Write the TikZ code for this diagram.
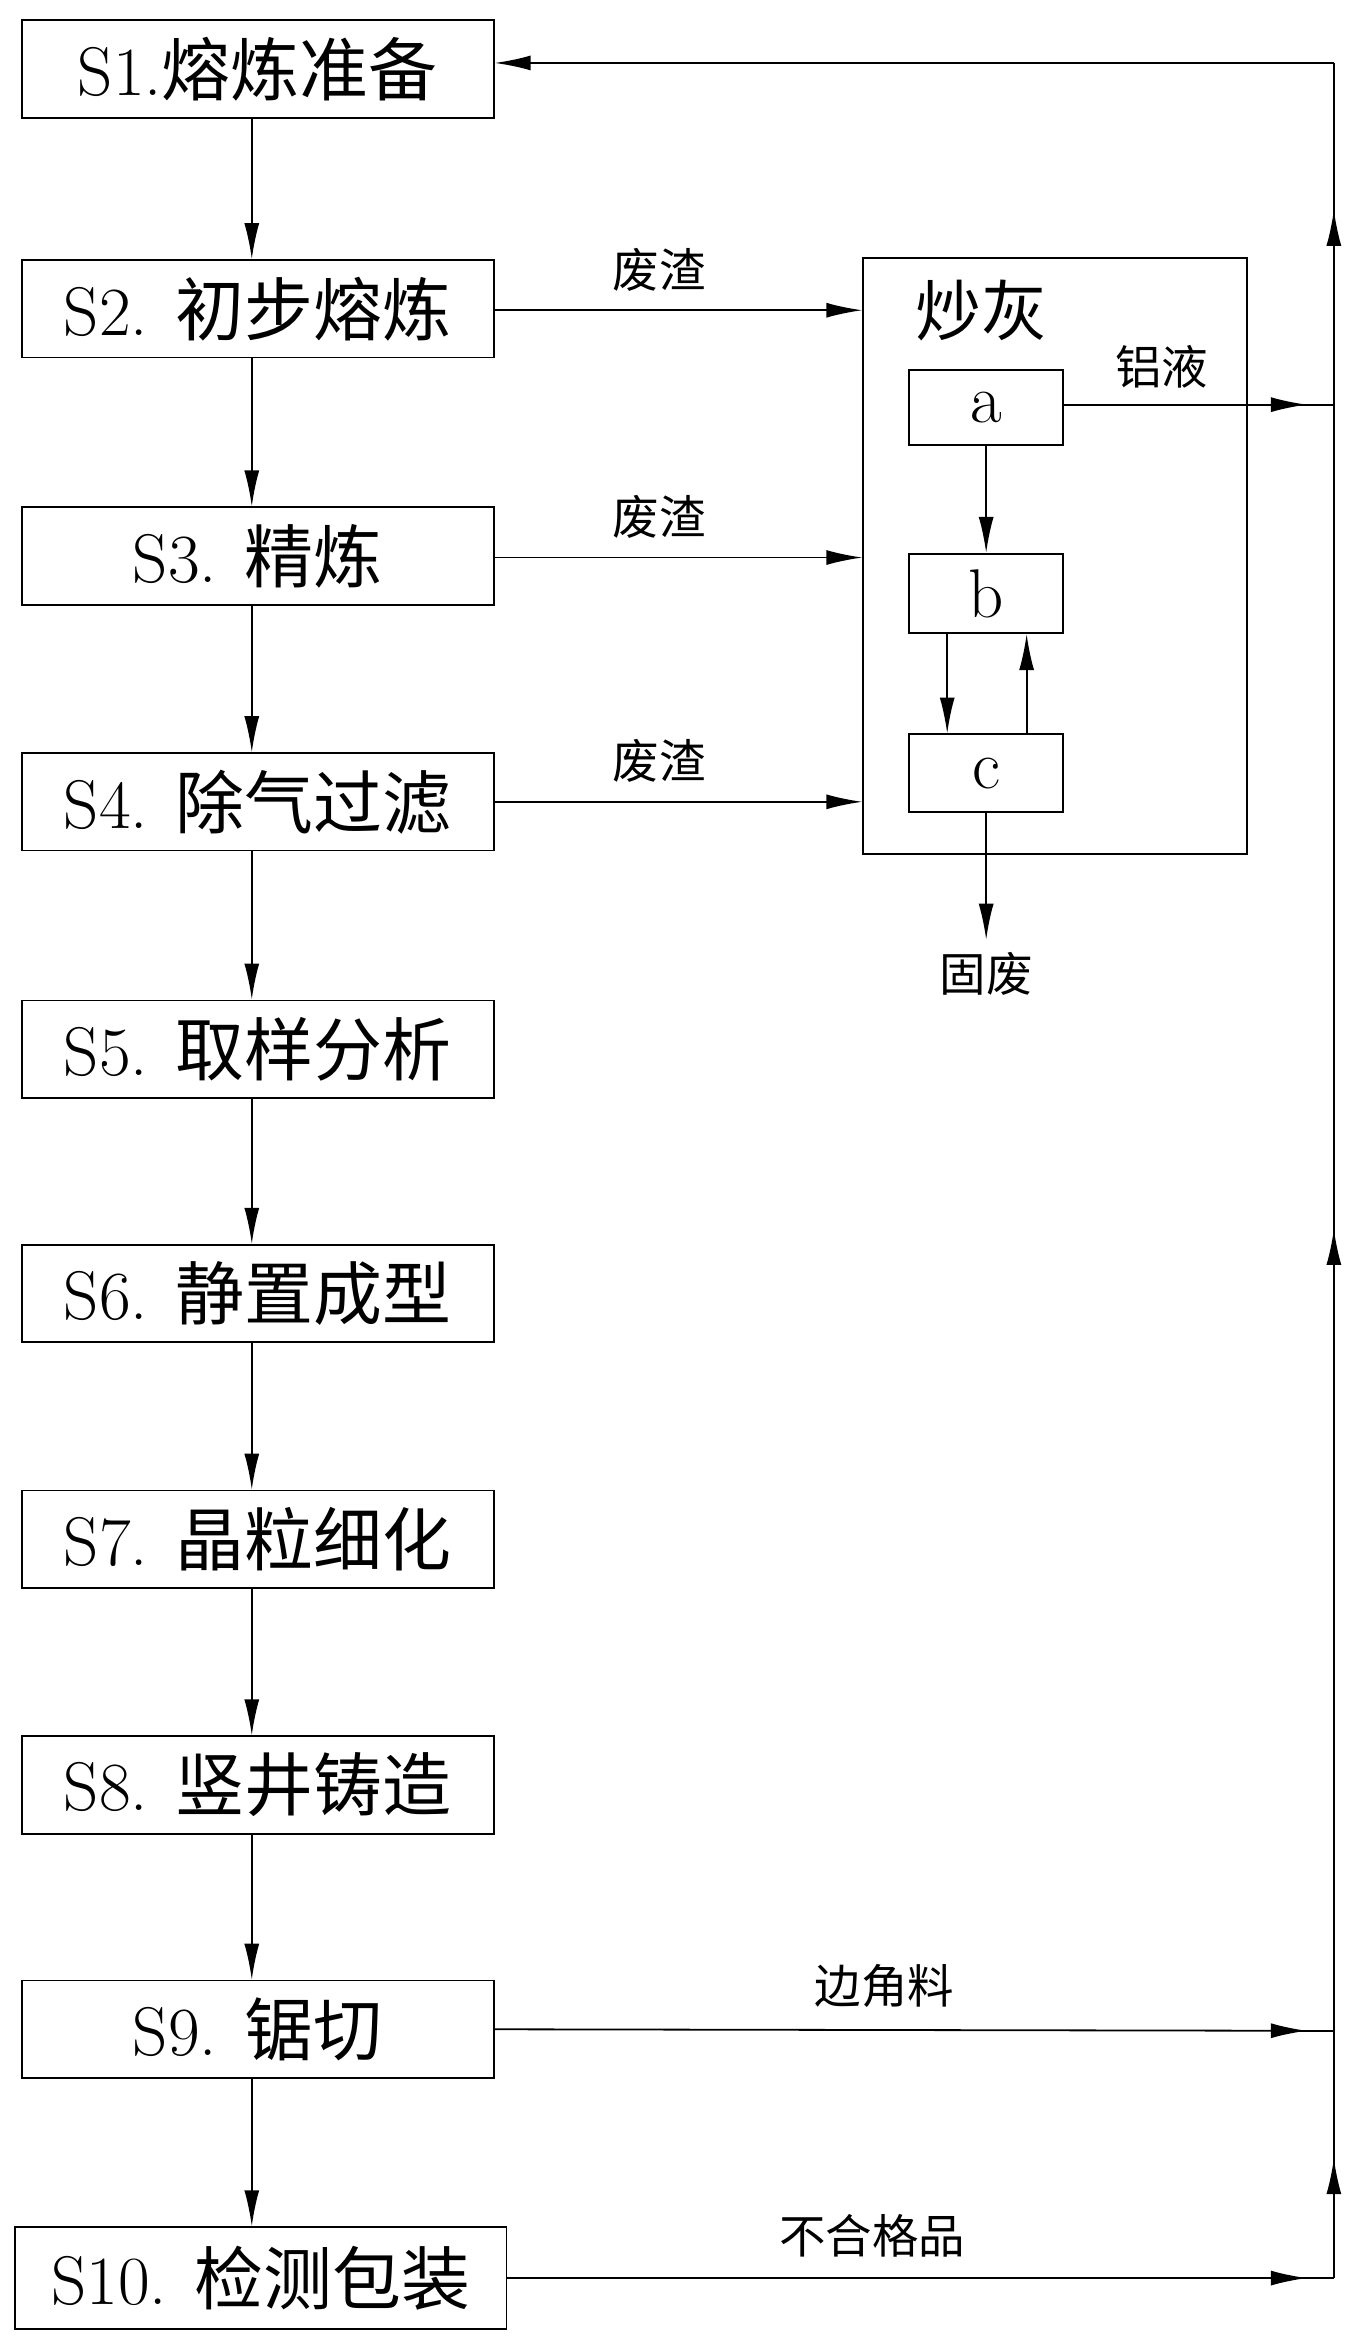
\documentclass[tikz,border=0pt]{standalone}
\usepackage{fontspec}
\newfontfamily\cjk{Noto Sans CJK SC}
\usetikzlibrary{arrows.meta}
\begin{document}
\begin{tikzpicture}[x=1pt,y=-1pt,
  box/.style={draw,line width=1.2pt,inner sep=0pt},
  ln/.style={line width=1.2pt},
  arr/.style={ln,-{Latex[length=24pt,width=10pt]}},
  big/.style={font=\fontsize{46}{50}\selectfont},
  lab/.style={font=\cjk\fontsize{31}{34}\selectfont}]
\useasboundingbox (0,0) rectangle (906,1560);
\def\stp#1#2#3#4{\node[box,big,minimum width=315pt,minimum height=65pt] (#1) at (172,#2) {#3\cjk #4};}
\stp{s1}{46}{S1.}{熔炼准备}
\stp{s2}{206}{S2. }{初步熔炼}
\stp{s3}{371}{S3. }{精炼}
\stp{s4}{535}{S4. }{除气过滤}
\stp{s5}{700}{S5. }{取样分析}
\stp{s6}{863}{S6. }{静置成型}
\stp{s7}{1027}{S7. }{晶粒细化}
\stp{s8}{1191}{S8. }{竖井铸造}
\stp{s9}{1354}{S9. }{锯切}
\node[box,big,minimum width=328pt,minimum height=68pt] (s10) at (174,1520) {S10. {\cjk 检测包装}};
\foreach \a/\b in {s1/s2,s2/s3,s3/s4,s4/s5,s5/s6,s6/s7,s7/s8,s8/s9} \draw[arr] (\a.south -| 168,0) -- (\b.north -| 168,0);
\draw[arr] (s9.south -| 168,0) -- (s10.north -| 168,0);
% chaohui box
\node[box,minimum width=256pt,minimum height=398pt] (ch) at (704,371) {};
\node[font=\cjk\fontsize{44}{48}\selectfont] (cht) at (655,207) {炒灰};
\node[box,big,minimum width=103pt,minimum height=50pt] (a) at (658,272) {a};
\node[box,big,minimum width=103pt,minimum height=53pt] (b) at (658,396) {b};
\node[box,big,minimum width=103pt,minimum height=52pt] (c) at (658,516) {c};
\draw[arr] (a.south) -- (b.north);
\draw[arr] (b.south -| 632,0) -- (c.north -| 632,0);
\draw[arr] (c.north -| 685,0) -- (b.south -| 685,0);
\node[lab] (gf) at (658,650) {固废};
\draw[arr] (c.south) -- (658,627);
\foreach \s/\y/\ly in {s2/207/180,s3/372/345,s4/535/508} {
  \draw[arr] (\s.east |- 0,\y) -- (ch.west |- 0,\y);
  \node[lab] at (440,\ly) {废渣};
}
% right return line
\coordinate (r1) at (890,42);
\coordinate (r2) at (890,1520);
\draw[ln] (r2) -- (r1);
\draw[arr] (r1) -- (s1.east |- r1);
\foreach \y in {150,830,1450} \draw[arr] (890,\y+30) -- (890,\y-10);
\draw[arr] (a.east |- 0,270) -- (872,270);
\draw[ln] (860,270) -- (890,270);
\node[lab] at (775,245) {铝液};
\draw[arr] (s9.east) -- (872,1355);
\draw[ln] (860,1355) -- (890,1355);
\node[lab] at (590,1325) {边角料};
\draw[arr] (s10.east) -- (872,1520);
\draw[ln] (860,1520) -- (890,1520);
\node[lab] at (582,1492) {不合格品};
\end{tikzpicture}
\end{document}
